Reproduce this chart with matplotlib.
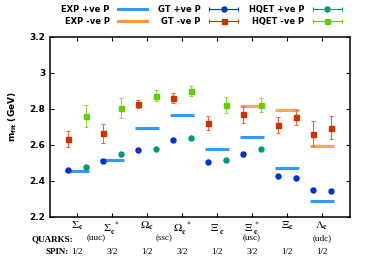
import numpy as np
import matplotlib
matplotlib.use("Agg")
import matplotlib.pyplot as plt
from matplotlib.lines import Line2D
from matplotlib.legend_handler import HandlerBase
from matplotlib.transforms import blended_transform_factory

plt.rcParams['mathtext.fontset'] = 'stix'

categories = [r'$\Sigma_{\mathbf{c}}$', r'$\Sigma_{\mathbf{c}}^{\ \ *}$', r'$\Omega_{\mathbf{c}}$',
              r'$\Omega_{\mathbf{c}}^{\ \ *}$', r"$\Xi_{\ \mathbf{c}}^{'}$", r"$\Xi_{\ \mathbf{c}}^{'*}$",
              r'$\Xi_{\mathbf{c}}$', r'$\Lambda_{\mathbf{c}}$']
spins = ['1/2', '3/2', '1/2', '3/2', '1/2', '3/2', '1/2', '1/2']
quarks = ['(uuc)', '(ssc)', '(usc)', '(udc)']
quark_pos = [1.55, 3.5, 6.0, 8.0]

exp_pos = [2.454, 2.518, 2.695, 2.766, 2.578, 2.646, 2.470, 2.286]
exp_neg = [np.nan, np.nan, np.nan, np.nan, np.nan, 2.818, 2.792, 2.595]

gt_pos = [2.462, 2.510, 2.571, 2.627, 2.504, 2.551, 2.426, 2.352]
gt_pos_err = [0.006, 0.012, 0.006, 0.006, 0.006, 0.010, 0.006, 0.008]
gt_neg = [2.632, 2.664, 2.827, 2.859, 2.720, 2.770, 2.712, 2.662]
gt_neg_err = [0.046, 0.054, 0.020, 0.028, 0.039, 0.046, 0.043, 0.070]

hq_pos = [2.475, 2.547, 2.577, 2.638, 2.514, 2.577, 2.419, 2.347]
hq_pos_err = [0.006, 0.008, 0.005, 0.006, 0.006, 0.008, 0.006, 0.007]
hq_neg = [2.760, 2.805, 2.873, 2.899, 2.823, 2.822, 2.753, 2.695]
hq_neg_err = [0.062, 0.054, 0.030, 0.028, 0.045, 0.040, 0.040, 0.063]

C_EXP_P = '#3399ff'
C_EXP_N = '#ff9933'
C_GT_P = '#0033cc'
C_GT_N = '#cc3300'
C_GT_N_E = '#dd6a4a'
C_HQ_P = '#009977'
C_HQ_N = '#66cc00'
C_HQ_N_E = '#8ed94a'

fig = plt.figure(figsize=(3.68, 2.58), dpi=100)
ax = fig.add_axes([0.136, 0.159, 0.815, 0.698])

x = np.arange(1, len(categories) + 1)
hw = 0.34
ax.hlines(exp_pos, x - hw, x + hw, colors=C_EXP_P, lw=2.2, zorder=2)
ax.hlines(exp_neg, x - hw, x + hw, colors=C_EXP_N, lw=2.2, alpha=0.85, zorder=2)

off = 0.25
ms = 3.6
for i in range(len(x)):
    hp_col = C_HQ_P if i < 6 else C_GT_P
    hn_col = C_HQ_N if i < 6 else C_GT_N
    hn_ecol = C_HQ_N_E if i < 6 else C_GT_N_E
    ax.errorbar(x[i] - off, gt_pos[i], yerr=gt_pos_err[i], fmt='o', color=C_GT_P, ms=ms,
                elinewidth=0.8, capsize=1.5, capthick=0.8, zorder=3)
    ax.errorbar(x[i] + off, hq_pos[i], yerr=hq_pos_err[i], fmt='o', color=hp_col, ms=ms,
                elinewidth=0.8, capsize=1.5, capthick=0.8, zorder=3)
    ax.errorbar(x[i] - off, gt_neg[i], yerr=gt_neg_err[i], fmt='s', color=C_GT_N, ms=ms,
                ecolor=C_GT_N_E, elinewidth=0.8, capsize=1.5, capthick=0.8, zorder=3)
    ax.errorbar(x[i] + off, hq_neg[i], yerr=hq_neg_err[i], fmt='s', color=hn_col, ms=ms,
                ecolor=hn_ecol, elinewidth=0.8, capsize=1.5, capthick=0.8, zorder=3)

ax.set_xlim(0.23, 8.8)
ax.set_ylim(2.2, 3.2)
ax.set_xticks(x)
ax.set_xticklabels([])
ax.set_yticks([2.2, 2.4, 2.6, 2.8, 3.0, 3.2])
ax.set_yticklabels(['2.2', '2.4', '2.6', '2.8', '3', '3.2'], fontsize=6.5, fontweight='bold')
ax.tick_params(direction='in', top=True, right=True, length=3, width=0.8, labelright=False)
for s in ax.spines.values():
    s.set_linewidth(1.1)
ax.set_ylabel(r'm$_{\mathregular{fit}}$ (GeV)', fontsize=6.5, fontweight='bold')
ax.yaxis.set_label_coords(-0.102, 0.56)

tr = blended_transform_factory(ax.transData, ax.transAxes)
for xi, lab, sp in zip(x, categories, spins):
    ax.text(xi, -0.015, lab, transform=tr, ha='center', va='top', fontsize=8)
    ax.text(xi, -0.17, sp, transform=tr, ha='center', va='top', fontsize=6.5,
            fontfamily='Liberation Serif')
for qp, q in zip(quark_pos, quarks):
    ax.text(qp, -0.095, q, transform=tr, ha='center', va='top', fontsize=6.5,
            fontfamily='Liberation Serif')
ax.text(0.89, -0.1, 'QUARKS:', transform=tr, ha='right', va='top', fontsize=6.5,
        fontweight='bold', fontfamily='Liberation Serif')
ax.text(0.78, -0.17, 'SPIN:', transform=tr, ha='right', va='top', fontsize=6.5,
        fontweight='bold', fontfamily='Liberation Serif')


class ErrHandler(HandlerBase):
    def __init__(self, color, marker):
        super().__init__()
        self.color = color
        self.marker = marker

    def create_artists(self, legend, orig_handle, xdescent, ydescent, width, height,
                       fontsize, trans):
        y = (height - ydescent) / 2
        x0, x1 = -xdescent, -xdescent + width
        xm = (x0 + x1) / 2
        line = Line2D([x0, x1], [y, y], color=self.color, lw=0.8, transform=trans)
        caps = Line2D([x0, x1], [y, y], color=self.color, lw=0, marker='|', ms=3,
                      mew=0.8, transform=trans)
        mk = Line2D([xm], [y], color=self.color, lw=0, marker=self.marker, ms=ms,
                    transform=trans)
        return [line, caps, mk]


h_exp_p = Line2D([], [], color=C_EXP_P, lw=2.2)
h_exp_n = Line2D([], [], color=C_EXP_N, lw=2.2)
h_gt_p = Line2D([], [], color=C_GT_P)
h_gt_n = Line2D([], [], color=C_GT_N)
h_hq_p = Line2D([], [], color=C_HQ_P)
h_hq_n = Line2D([], [], color=C_HQ_N)
handles = [h_exp_p, h_exp_n, h_gt_p, h_gt_n, h_hq_p, h_hq_n]
labels = ['EXP +ve P', 'EXP -ve P', 'GT +ve P', 'GT -ve P', 'HQET +ve P', 'HQET -ve P']
hmap = {h_gt_p: ErrHandler(C_GT_P, 'o'), h_gt_n: ErrHandler(C_GT_N, 's'),
        h_hq_p: ErrHandler(C_HQ_P, 'o'), h_hq_n: ErrHandler(C_HQ_N, 's')}
leg = fig.legend(handles, labels, ncol=3, loc='upper center', bbox_to_anchor=(0.548, 1.01),
                 frameon=False, markerfirst=False, handlelength=3.5,
                 columnspacing=1.3, handletextpad=1.0, labelspacing=0.35,
                 prop={'weight': 'bold', 'size': 6}, handler_map=hmap)

fig.savefig('out.png', dpi=100)
